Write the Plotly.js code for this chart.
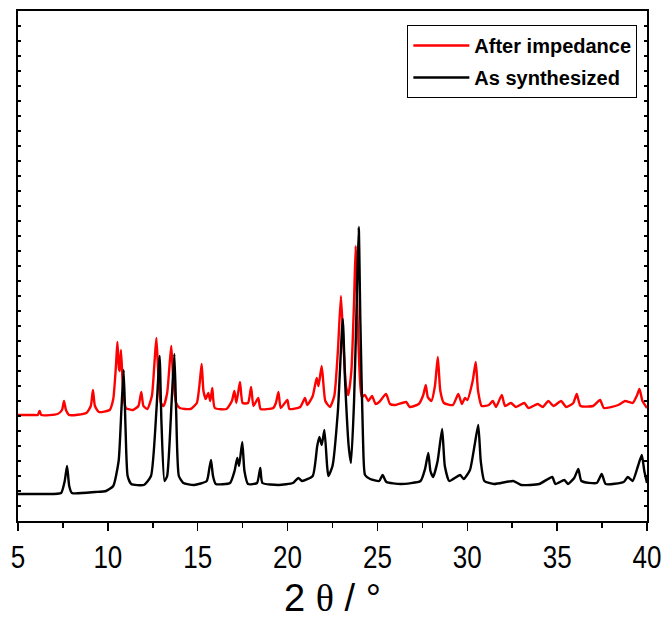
<!DOCTYPE html>
<html>
<head>
<meta charset="utf-8">
<script src="https://cdn.plot.ly/plotly-3.0.1.min.js"></script>
<style>html,body{margin:0;padding:0;background:#fff;}#chart{width:663px;height:619px;}</style>
</head>
<body>
<div id="chart"></div>
<script>
// 2θ (degrees) and intensity (a.u., offset as plotted)
const afterX = [5.0,5.8,6.1,6.2,6.3,7.2,7.45,7.56,7.67,7.85,8.8,9.05,9.17,9.28,9.5,10.1,10.3,10.45,10.53,10.62,10.66,10.73,10.85,11.0,11.4,11.7,11.86,11.98,12.2,12.45,12.6,12.7,12.8,12.95,13.1,13.3,13.45,13.53,13.63,13.8,14.0,14.6,14.95,15.12,15.22,15.32,15.45,15.59,15.7,15.81,15.95,16.6,16.9,17.04,17.15,17.35,17.5,17.8,17.97,18.1,18.37,18.5,19.2,19.35,19.49,19.62,19.99,20.1,20.7,20.97,21.1,21.4,21.62,21.72,21.9,22.1,22.36,22.6,22.8,22.97,23.1,23.25,23.38,23.55,23.7,23.79,23.9,24.05,24.13,24.3,24.5,24.7,24.9,25.1,25.48,25.7,26.0,26.6,26.8,27.3,27.55,27.69,27.8,28.0,28.2,28.36,28.5,28.7,29.2,29.5,29.7,29.87,30.0,30.3,30.47,30.6,30.8,31.2,31.42,31.6,31.92,32.1,32.43,32.7,33.17,33.4,33.92,34.2,34.51,34.8,35.22,35.5,35.9,36.09,36.3,37.0,37.39,37.6,38.4,38.78,39.2,39.45,39.58,39.75,40.0];
const afterY = [106,106,106,110,106,107,111,120,111,106,108,115,131,115,109,111,122,155,179,152,150,171,130,113,111,115,129,115,112,125,160,183,150,118,115,128,160,175,145,118,113,112,118,140,157,130,122,128,120,133,113,112,120,130,118,139,118,118,134,115,123,112,113,118,129,113,121,112,114,123,116,125,143,135,155,120,114,125,170,225,180,135,126,150,220,275,200,135,124,126,120,125,117,119,127,117,116,119,114,117,126,136,124,120,135,164,130,118,116,127,117,123,121,140,159,130,115,116,120,114,126,115,118,114,118,113,117,114,120,115,120,114,118,127,115,115,121,113,116,120,118,126,132,120,113];

const asX = [5.0,6.5,7.4,7.6,7.73,7.85,8.0,9.3,9.9,10.3,10.6,10.75,10.88,10.98,11.1,11.3,12.0,12.4,12.7,12.88,12.98,13.15,13.3,13.55,13.7,13.8,13.95,14.2,14.8,15.5,15.65,15.74,15.85,16.0,16.8,17.05,17.2,17.3,17.48,17.6,17.8,18.3,18.48,18.6,19.5,20.3,20.6,20.8,21.4,21.65,21.77,21.9,22.05,22.2,22.27,22.5,22.8,23.07,23.2,23.4,23.53,23.7,23.85,23.96,24.05,24.2,24.31,24.6,25.1,25.29,25.5,26.3,27.4,27.65,27.83,27.95,28.1,28.35,28.6,28.75,29.0,29.6,29.8,30.15,30.4,30.61,30.75,30.95,31.5,32.56,33.0,34.0,34.73,34.9,35.4,35.6,35.95,36.18,36.35,37.2,37.48,37.7,38.7,38.93,39.2,39.5,39.71,39.85,40.0];
const asY = [27,27,28,40,55,35,28,29,30,35,60,110,151,95,45,37,36,45,110,165,100,40,45,120,167,110,45,38,36,40,53,61,45,37,38,50,63,55,79,50,37,38,53,38,36,38,43,40,45,75,84,76,91,55,45,55,110,202,140,75,58,120,220,294,200,80,46,42,40,46,39,37,40,52,68,50,44,60,92,55,40,46,42,51,75,96,60,40,37,40,36,37,44,37,41,37,43,52,40,38,47,37,39,44,40,55,66,50,38];

const seriesNames = ["After impedance", "As synthesized"];
const xTicks = [5,10,15,20,25,30,35,40];

const traces = [
  {x: afterX, y: afterY, name: seriesNames[0], type: 'scatter', mode: 'lines',
   line: {color: '#ff0000', width: 2.4, shape: 'spline', smoothing: 0.5}, legendgroup: 'a'},
  {x: asX, y: asY, name: seriesNames[1], type: 'scatter', mode: 'lines',
   line: {color: '#000000', width: 2.4, shape: 'spline', smoothing: 0.5}, legendgroup: 'b'}
];

const layout = {
  width: 663, height: 619,
  margin: {l: 18, r: 16, t: 11, b: 98},
  paper_bgcolor: '#fff', plot_bgcolor: '#fff',
  showlegend: true,
  legend: {x: 0.619, y: 0.9725, xanchor: 'left', yanchor: 'top',
    bordercolor: '#000', borderwidth: 1, bgcolor: '#fff',
    traceorder: 'grouped', tracegroupgap: 3, itemwidth: 56,
    font: {family: 'Liberation Sans, Arial, sans-serif', size: 20, weight: 'bold', color: '#000'}},
  xaxis: {range: [5, 40], tickvals: xTicks, ticktext: xTicks.map(String),
    ticks: 'outside', ticklen: 8, tickwidth: 1.5, tickcolor: '#000', ticklabeloverflow: 'allow',
    minor: {dtick: 2.5, tick0: 5, ticks: 'outside', ticklen: 5, tickwidth: 1.5, tickcolor: '#000', showgrid: false},
    showline: true, linewidth: 2, linecolor: '#000', mirror: true,
    showgrid: false, zeroline: false,
    tickfont: {family: 'Liberation Sans Narrow, Arial Narrow, Liberation Sans, sans-serif', size: 31, color: '#000'},
    title: {text: '2 <span style="font-family:Liberation Serif">θ</span> / °', standoff: 26,
      font: {family: 'Liberation Sans, Arial, sans-serif', size: 38, color: '#000'}}},
  xaxis2: {range: [5, 40], overlaying: 'x', side: 'top', showticklabels: false,
    tickvals: xTicks, ticks: 'inside', ticklen: 4, tickwidth: 1.5, tickcolor: '#000',
    minor: {dtick: 2.5, tick0: 5, ticks: 'inside', ticklen: 4, tickwidth: 1.5, tickcolor: '#000', showgrid: false},
    showline: false, showgrid: false, zeroline: false},
  yaxis: {range: [0, 510], dtick: 15, tick0: 0, showticklabels: false,
    ticks: 'inside', ticklen: 3, tickwidth: 1.5, tickcolor: '#000',
    showline: true, linewidth: 2, linecolor: '#000', mirror: 'allticks',
    showgrid: false, zeroline: false}
};

Plotly.newPlot('chart', traces, layout, {displayModeBar: false, staticPlot: true}).then(function (gd) {
  // narrow the tick labels horizontally, like the condensed face of the original
  gd.querySelectorAll('.xtick text').forEach(function (t) {
    const tr = t.getAttribute('transform') || '';
    const x = parseFloat(t.getAttribute('x') || 0);
    t.setAttribute('transform', tr + ' translate(' + x + ',0) scale(0.84,1) translate(' + (-x) + ',0)');
  });
});
</script>
</body>
</html>
